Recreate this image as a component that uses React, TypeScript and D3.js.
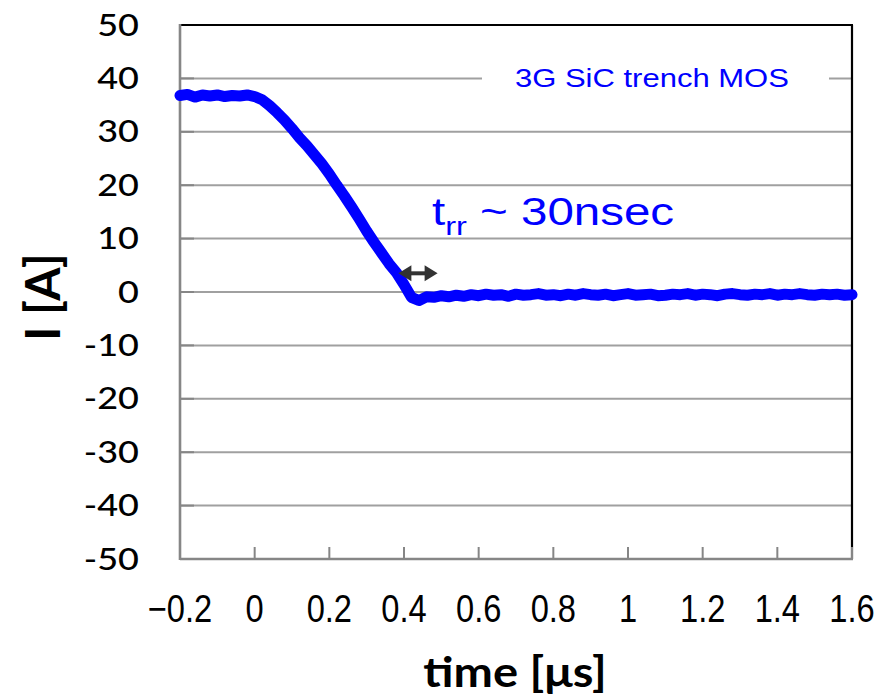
import React from 'react';
import * as d3 from 'd3';

const timeUs = [
  -0.2, -0.18, -0.16, -0.14, -0.12, -0.1, -0.08, -0.06, -0.04, -0.02,
  0, 0.02, 0.04, 0.06, 0.08, 0.1, 0.12, 0.14, 0.16, 0.18,
  0.2, 0.22, 0.24, 0.26, 0.28, 0.3, 0.32, 0.34, 0.36, 0.38,
  0.4, 0.42, 0.44, 0.46, 0.48, 0.5, 0.52, 0.54, 0.56, 0.58,
  0.6, 0.62, 0.64, 0.66, 0.68, 0.7, 0.72, 0.74, 0.76, 0.78,
  0.8, 0.82, 0.84, 0.86, 0.88, 0.9, 0.92, 0.94, 0.96, 0.98,
  1, 1.02, 1.04, 1.06, 1.08, 1.1, 1.12, 1.14, 1.16, 1.18,
  1.2, 1.22, 1.24, 1.26, 1.28, 1.3, 1.32, 1.34, 1.36, 1.38,
  1.4, 1.42, 1.44, 1.46, 1.48, 1.5, 1.52, 1.54, 1.56, 1.58,
  1.6,
];

const currentA = [
  36.8, 37.0, 36.5, 36.9, 36.7, 36.9, 36.6, 36.8, 36.7, 36.9,
  36.6, 36.0, 34.9, 33.6, 32.2, 30.6, 28.9, 27.4, 25.7, 24.0,
  22.1, 20.0, 18.0, 15.9, 13.7, 11.4, 9.3, 7.3, 5.3, 3.6,
  1.4, -1.0, -1.6, -0.9, -1.0, -0.7, -0.9, -0.6, -0.8, -0.5,
  -0.7, -0.4, -0.6, -0.5, -0.8, -0.4, -0.6, -0.5, -0.3, -0.6,
  -0.5, -0.7, -0.4, -0.6, -0.3, -0.5, -0.6, -0.4, -0.7, -0.5,
  -0.3, -0.6, -0.5, -0.4, -0.7, -0.6, -0.4, -0.5, -0.3, -0.6,
  -0.4, -0.5, -0.7, -0.4, -0.3, -0.5, -0.6, -0.4, -0.5, -0.3,
  -0.6, -0.4, -0.5, -0.3, -0.5, -0.6, -0.4, -0.5, -0.4, -0.6,
  -0.5,
];

const xTicks = [-0.2, 0, 0.2, 0.4, 0.6, 0.8, 1, 1.2, 1.4, 1.6];
const xTickLabels = ['\u22120.2', '0', '0.2', '0.4', '0.6', '0.8', '1', '1.2', '1.4', '1.6'];
const yTicks = [50, 40, 30, 20, 10, 0, -10, -20, -30, -40, -50];
const yTickLabels = ['50', '40', '30', '20', '10', '0', '-10', '-20', '-30', '-40', '-50'];
const seriesLabel = '3G SiC trench MOS';
const xTitle = 'time [\u03BCs]';
const yTitle = 'I [A]';
const trrAnnot = { main: 't', sub: 'rr', rest: ' ~ 30nsec', from: 0.385, to: 0.49, level: 3.5 };

export default function App() {
  const W = 891;
  const H = 700;
  const x = d3.scaleLinear().domain([-0.2, 1.6]).range([180, 852]);
  const y = d3.scaleLinear().domain([-50, 50]).range([559, 25]);
  const pts = timeUs.map((t, i) => [t, currentA[i]] as [number, number]);
  const line = d3.line<[number, number]>().x((d) => x(d[0])).y((d) => y(d[1]));

  const x0 = x(-0.2);
  const x1 = x(1.6);
  const yTop = y(50);
  const yBot = y(-50);

  const blue = '#0000ff';
  const gridC = '#a0a0a0';
  const axisC = '#868686';

  const ay = y(trrAnnot.level);
  const ax0 = x(trrAnnot.from);
  const ax1 = x(trrAnnot.to);
  const head = 13;
  const hh = 8;

  const labelY = y(40);

  return (
    <svg
      width={W}
      height={H}
      style={{ position: 'absolute', left: 0, top: 0, background: '#fff' }}
    >
      <rect x={0} y={0} width={W} height={H} fill="#fff" />
      {yTicks
        .filter((v) => v !== 50 && v !== -50)
        .map((v) => (
          <line key={'g' + v} x1={x0} x2={x1} y1={y(v)} y2={y(v)} stroke={gridC} strokeWidth={2} />
        ))}
      {yTicks.map((v) => (
        <line key={'lt' + v} x1={x0} x2={x0 + 14} y1={y(v)} y2={y(v)} stroke={axisC} strokeWidth={2} />
      ))}
      <line x1={x0} x2={x1 + 1} y1={yTop} y2={yTop} stroke="#000" strokeWidth={2.2} />
      <line x1={x1} x2={x1} y1={yTop} y2={yBot} stroke="#000" strokeWidth={2.2} />
      <line x1={x0} x2={x0} y1={yTop - 1} y2={yBot + 1} stroke={axisC} strokeWidth={2.6} />
      <line x1={x0} x2={x1 + 1} y1={yBot} y2={yBot} stroke={axisC} strokeWidth={2.6} />
      {xTicks.map((v) => (
        <line key={'xt' + v} x1={x(v)} x2={x(v)} y1={yBot} y2={yBot - 12} stroke={axisC} strokeWidth={2} />
      ))}

      <rect x={482} y={labelY - 18} width={347} height={36} fill="#fff" />
      <text
        transform={`translate(515,${labelY + 9}) scale(1.17,1)`}
        fontFamily="'Liberation Sans', Arial, sans-serif"
        fontSize={26.5}
        fill={blue}
      >
        {seriesLabel}
      </text>

      <path
        d={line(pts) || ''}
        fill="none"
        stroke={blue}
        strokeWidth={11}
        strokeLinejoin="round"
        strokeLinecap="round"
      />

      <line x1={ax0 + head - 1} x2={ax1 - head + 1} y1={ay} y2={ay} stroke="#333" strokeWidth={4} />
      <path d={`M${ax0},${ay} L${ax0 + head},${ay - hh} L${ax0 + head},${ay + hh} Z`} fill="#333" />
      <path d={`M${ax1},${ay} L${ax1 - head},${ay - hh} L${ax1 - head},${ay + hh} Z`} fill="#333" />

      <text
        transform="translate(432,225) scale(1.25,1)"
        fontFamily="'Liberation Sans', Arial, sans-serif"
        fontSize={38}
        fill={blue}
      >
        <tspan>{trrAnnot.main}</tspan>
        <tspan fontSize={26} dy={10}>{trrAnnot.sub}</tspan>
        <tspan dy={-10}>{trrAnnot.rest}</tspan>
      </text>

      {yTicks.map((v, i) => (
        <text
          key={'yl' + v}
          transform={`translate(139,${y(v) + 10.5}) scale(1.2,1)`}
          textAnchor="end"
          fontFamily="Lato, 'Open Sans', sans-serif"
          fontWeight={500}
          fontSize={30}
          fill="#000"
        >
          {yTickLabels[i]}
        </text>
      ))}

      {xTicks.map((v, i) => (
        <text
          key={'xl' + v}
          transform={`translate(${x(v)},622) scale(0.86,1)`}
          textAnchor="middle"
          fontFamily="'Liberation Sans', Arial, sans-serif"
          fontSize={38}
          fill="#000"
        >
          {xTickLabels[i]}
        </text>
      ))}

      <text
        transform="translate(515,687) scale(1.12,1)"
        textAnchor="middle"
        fontFamily="Lato, 'Open Sans', sans-serif"
        fontWeight={700}
        fontSize={42}
        fill="#000"
      >
        {xTitle}
      </text>
      <text
        transform="translate(60,297) rotate(-90)"
        textAnchor="middle"
        fontFamily="Lato, 'Open Sans', sans-serif"
        fontWeight={700}
        fontSize={48}
        fill="#000"
      >
        {yTitle}
      </text>
    </svg>
  );
}
